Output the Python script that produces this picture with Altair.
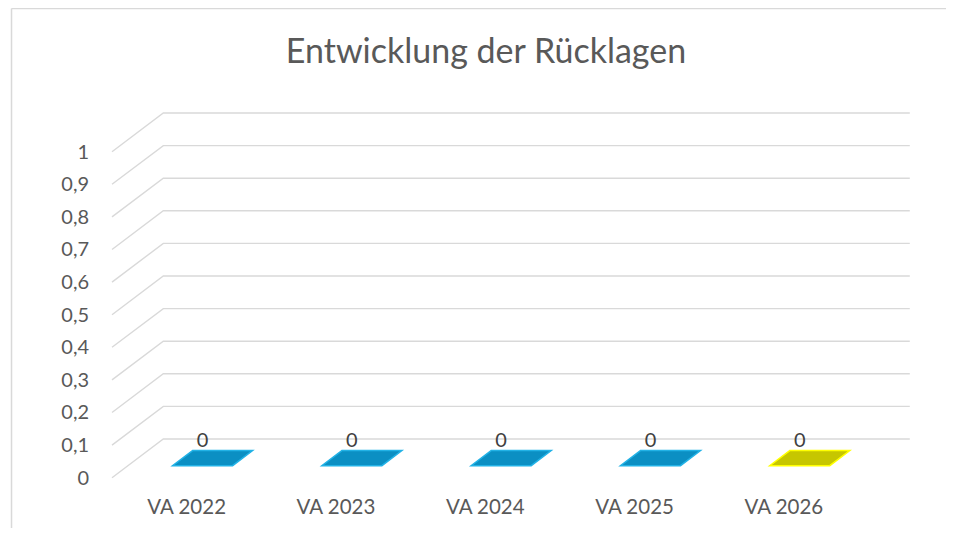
import altair as alt
import pandas as pd

# ---------------- data ----------------
categories = ["VA 2022", "VA 2023", "VA 2024", "VA 2025", "VA 2026"]
values = [0, 0, 0, 0, 0]
bar_fill = ["#0b8fc3", "#0b8fc3", "#0b8fc3", "#0b8fc3", "#c6c600"]
bar_edge = ["#22b2e6", "#22b2e6", "#22b2e6", "#22b2e6", "#ffff00"]
tick_values = [0, 0.1, 0.2, 0.3, 0.4, 0.5, 0.6, 0.7, 0.8, 0.9, 1]
tick_labels = ["0", "0,1", "0,2", "0,3", "0,4", "0,5", "0,6", "0,7", "0,8", "0,9", "1"]
title_text = "Entwicklung der Rücklagen"

# ---------------- layout (pseudo 3D perspective) ----------------
SLOT_PX = 149.3      # width of one category slot
DEPTH_X_PX = 51.3    # horizontal shift from front to back wall
DEPTH_Y_PX = 38.7    # vertical shift from front to back wall
UNIT_PX = 326.0      # pixels for 1.0 on value axis
n = len(categories)
sx = DEPTH_X_PX / SLOT_PX
dv = DEPTH_Y_PX / UNIT_PX
vmax = max(tick_values)
W = (n + sx) * SLOT_PX
H = (vmax + dv) * UNIT_PX
BAR_W = 0.402        # bar width in slots
T0, T1 = 0.31, 0.70  # bar depth position (fraction of floor depth)

TEXT = "#595959"
GRID = "#d9d9d9"
FONT = "Lato"

xs = alt.Scale(domain=[0, n + sx], nice=False, zero=False)
ys = alt.Scale(domain=[0, vmax + dv], nice=False, zero=False)

# gridlines: front point -> back point -> right end
grid_rows = []
for v in tick_values:
    pts = [(0, v), (sx, v + dv), (n + sx, v + dv)]
    for k, (gx, gy) in enumerate(pts):
        grid_rows.append({"tick": v, "k": k, "gx": gx, "gy": gy})
grid_df = pd.DataFrame(grid_rows)

grid = alt.Chart(grid_df).mark_line(color=GRID, strokeWidth=1.4).encode(
    x=alt.X("gx:Q", scale=xs, axis=None),
    y=alt.Y("gy:Q", scale=ys, axis=None),
    detail="tick:N",
    order="k:Q",
)

# bar tops (parallelogram) built from values
bar_rows = []
for i, (c, v) in enumerate(zip(categories, values)):
    for t in (T0, T1):
        left = i + 0.5 - BAR_W / 2 + t * sx
        bar_rows.append({"cat": c, "by": v + t * dv, "bx": left, "bx2": left + BAR_W})
bar_df = pd.DataFrame(bar_rows)

bars = alt.Chart(bar_df).mark_area(orient="horizontal", strokeWidth=1.5, opacity=1).encode(
    y=alt.Y("by:Q", scale=ys, axis=None),
    x=alt.X("bx:Q", scale=xs, axis=None),
    x2="bx2:Q",
    fill=alt.Fill("cat:N", scale=alt.Scale(domain=categories, range=bar_fill), legend=None),
    stroke=alt.Stroke("cat:N", scale=alt.Scale(domain=categories, range=bar_edge), legend=None),
)

# data labels
lab_df = pd.DataFrame({
    "cat": categories,
    "lx": [i + 0.5 + T0 * sx for i in range(n)],
    "ly": [v + T1 * dv for v in values],
    "txt": [str(v) for v in values],
})
data_labels = alt.Chart(lab_df).mark_text(
    font=FONT, fontSize=20, color="#404040", baseline="alphabetic", dy=-4
).encode(
    x=alt.X("lx:Q", scale=xs, axis=None),
    y=alt.Y("ly:Q", scale=ys, axis=None),
    text="txt:N",
)

# category labels
cat_df = pd.DataFrame({"cat": categories, "cx": [i + 0.5 for i in range(n)], "cy": [0] * n})
cat_labels = alt.Chart(cat_df).mark_text(
    font=FONT, fontSize=20.5, color=TEXT, baseline="middle", dy=30
).encode(
    x=alt.X("cx:Q", scale=xs, axis=None),
    y=alt.Y("cy:Q", scale=ys, axis=None),
    text="cat:N",
)

# value axis labels
tick_df = pd.DataFrame({"tv": tick_values, "tl": tick_labels, "tx": [0] * len(tick_values)})
tick_text = alt.Chart(tick_df).mark_text(
    font=FONT, fontSize=20, color=TEXT, align="right", baseline="middle", dx=-23, dy=1
).encode(
    x=alt.X("tx:Q", scale=xs, axis=None),
    y=alt.Y("tv:Q", scale=ys, axis=None),
    text="tl:N",
)

# chart title
title_df = pd.DataFrame({"t": [title_text]})
title = alt.Chart(title_df).mark_text(
    font=FONT, fontSize=34, color=TEXT, align="center", baseline="middle"
).encode(
    x=alt.value(486 - 112), y=alt.value(53 - 113), text="t:N"
)

# chart frame (left and top border)
one = pd.DataFrame({"a": [0]})
frame_left = alt.Chart(one).mark_rule(color=GRID, strokeWidth=1.5).encode(
    x=alt.value(-100.5), y=alt.value(-104.5), y2=alt.value(H + 80)
)
frame_top = alt.Chart(one).mark_rule(color=GRID, strokeWidth=1.5).encode(
    x=alt.value(-100.5), x2=alt.value(W + 60), y=alt.value(-104.5)
)

chart = alt.layer(
    frame_left, frame_top, grid, bars, data_labels, cat_labels, tick_text, title
).properties(
    width=W,
    height=H,
    padding={"left": 104, "top": 105, "right": 36, "bottom": 50},
    autosize=alt.AutoSizeParams(type="none"),
).configure(background="white").configure_view(stroke=None)

chart.save("out.html", embed_options={"renderer": "svg", "actions": False})
